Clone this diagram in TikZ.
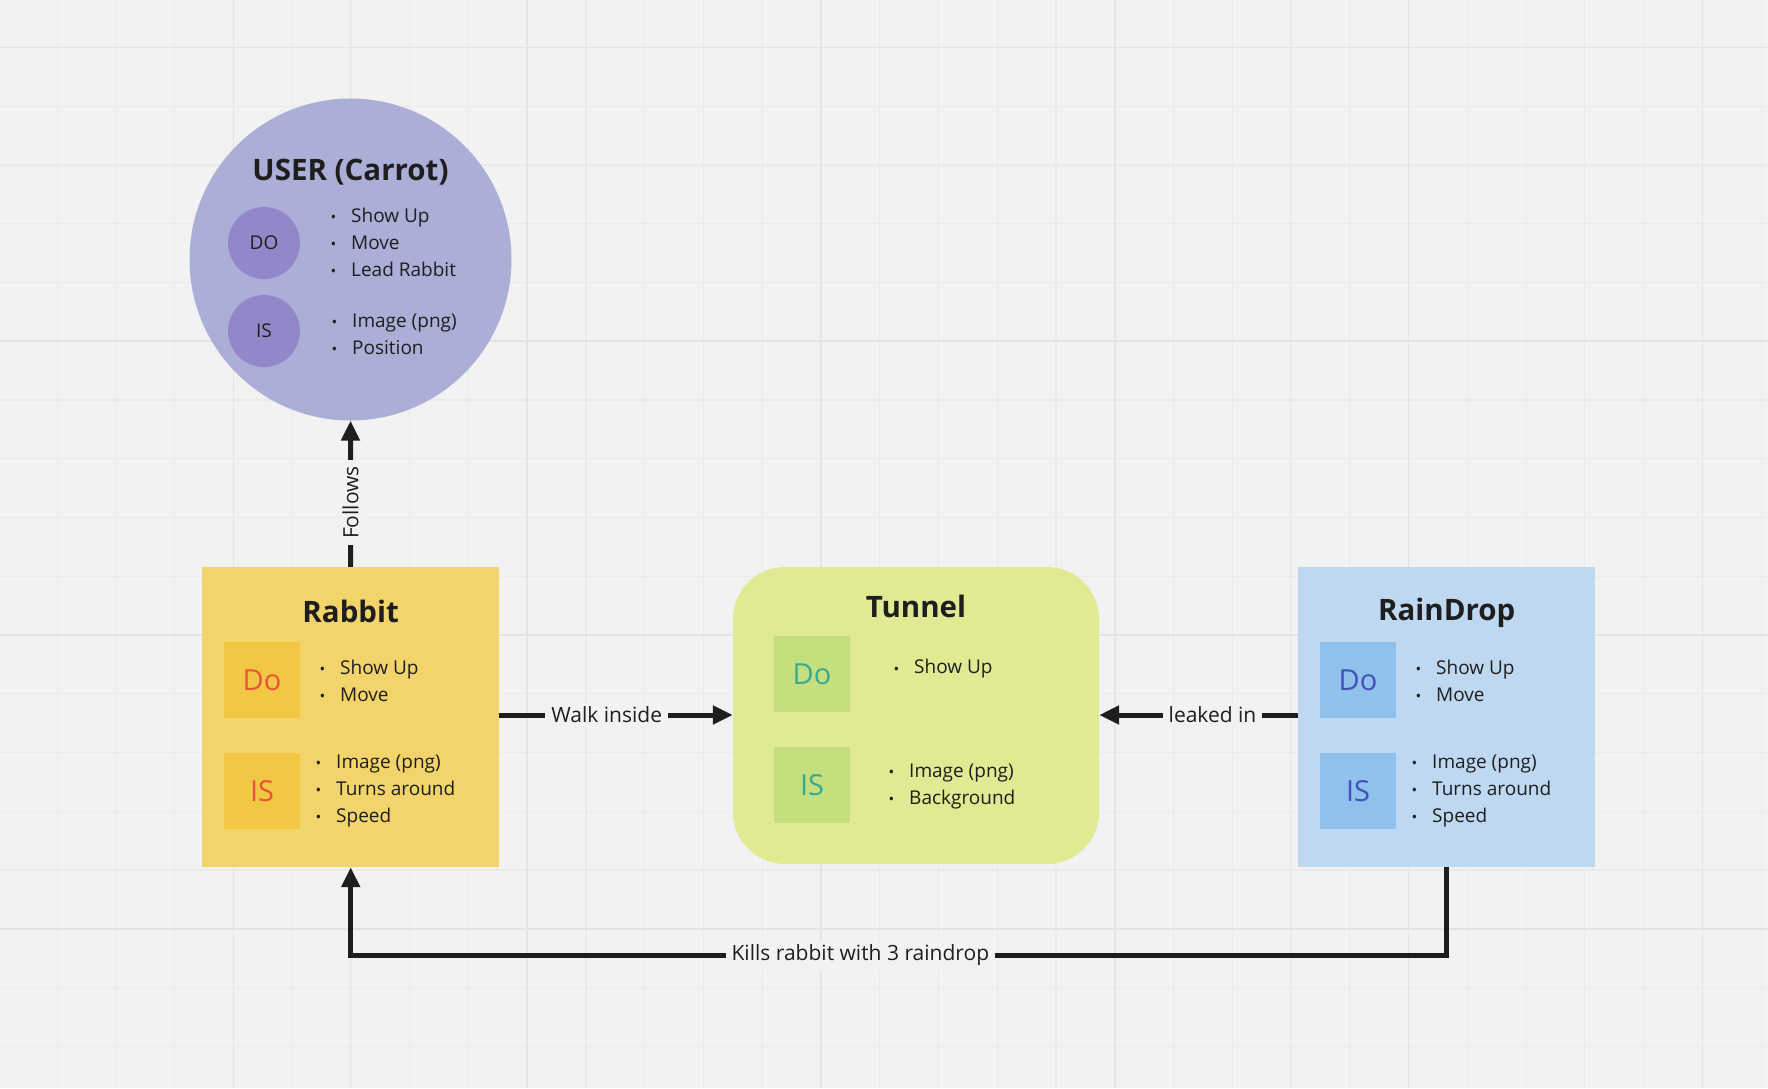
\documentclass[tikz,border=0pt]{standalone}
\usepackage{fontspec}
\setmainfont{Open Sans}
\usepackage{xcolor}
\usetikzlibrary{arrows.meta,positioning}

\definecolor{bgcol}{HTML}{F2F2F2}
\definecolor{gridminor}{HTML}{EAEAEA}
\definecolor{gridmajor}{HTML}{E4E4E4}
\definecolor{carrotfill}{HTML}{ABAED6}
\definecolor{carrotdot}{HTML}{9287C8}
\definecolor{rabbitfill}{HTML}{F2D46B}
\definecolor{rabbitsq}{HTML}{F2C744}
\definecolor{rabbittext}{HTML}{E8533A}
\definecolor{tunnelfill}{HTML}{DFEA93}
\definecolor{tunnelsq}{HTML}{C3DF7E}
\definecolor{tunneltext}{HTML}{3BA98F}
\definecolor{rainfill}{HTML}{BDD8F0}
\definecolor{rainsq}{HTML}{90C0EC}
\definecolor{raintext}{HTML}{4250B8}
\definecolor{ink}{HTML}{1E1E1E}

\newcommand{\bul}{\makebox[19pt][l]{\hspace*{-1.5pt}\fontsize{15}{15}\selectfont\raisebox{-0.3pt}{•}}}

\begin{document}
\begin{tikzpicture} %Carrot game
      [
      x=1pt, y=-1pt,
      carrot/.style={circle, fill=carrotfill, minimum size=322pt, inner sep=0pt},
      dot/.style={circle, fill=carrotdot, minimum size=72pt, inner sep=0pt, text=ink, font=\fontsize{19}{19}\selectfont},
      box/.style={minimum width=297pt, minimum height=300pt, inner sep=0pt},
      sq/.style={minimum size=76pt, inner sep=0pt, font=\fontsize{29}{29}\selectfont},
      title/.style={text=ink, font=\bfseries\fontsize{29.5}{29.5}\selectfont},
      list/.style={anchor=west, align=left, inner sep=0pt, text=ink, font=\fontsize{19}{27}\selectfont},
      lbl/.style={fill=bgcol, inner xsep=6pt, inner ysep=4pt, text=ink, font=\fontsize{21}{21}\selectfont},
      conn/.style={draw=ink, line width=5pt, -{Triangle[length=20pt,width=18pt]}}
      ]
      \useasboundingbox (0,0) rectangle (1768,1088);
      \fill[bgcol] (0,0) rectangle (1768,1088);
      \foreach \k in {0,...,29} \draw[gridminor, line width=1.2pt] ({57.1+\k*58.76},0) -- ++(0,1088);
      \foreach \k in {0,...,17} \draw[gridminor, line width=1.2pt] (0,{47.4+\k*58.76}) -- ++(1768,0);
      \foreach \k in {0,...,5} \draw[gridmajor, line width=1.5pt] ({233.4+\k*293.8},0) -- ++(0,1088);
      \foreach \k in {0,...,3} \draw[gridmajor, line width=1.5pt] (0,{47.4+\k*293.8}) -- ++(1768,0);

      % user
      \node[carrot] (carrot) at (350.5,259.5) {};
      \node[title] (carrottitle) at (350.5,172) {USER (Carrot)};
      \node[dot] (carrotdo) at (264,243) {DO};
      \node[dot] (carrotis) at (264,331) {IS};
      \node[list] (carrotdolist) at (332,242) {\bul Show Up\\ \bul Move\\ \bul Lead Rabbit};
      \node[list] (carrotislist) at (333,334) {\bul Image (png)\\ \bul Position};

      % rabbit
      \node[box, fill=rabbitfill] (rabbit) at (350.7,717) {};
      \node[title] (rabbittitle) at (350.7,611) {Rabbit};
      \node[sq, fill=rabbitsq, text=rabbittext] (rabbitdo) at (262,680) {Do};
      \node[sq, fill=rabbitsq, text=rabbittext] (rabbitis) at (262,791) {IS};
      \node[list] (rabbitdolist) at (321,681) {\bul Show Up\\ \bul Move};
      \node[list] (rabbitislist) at (317,791) {\bul Image (png)\\ \bul Turns around\\ \bul Speed};

      % tunnel
      \node[box, fill=tunnelfill, minimum width=366pt, minimum height=297pt, rounded corners=52pt] (tunnel) at (916,715.5) {};
      \node[title] (tunneltitle) at (916,606) {Tunnel};
      \node[sq, fill=tunnelsq, text=tunneltext] (tunneldo) at (812,674) {Do};
      \node[sq, fill=tunnelsq, text=tunneltext] (tunnelis) at (812,785) {IS};
      \node[list] (tunneldolist) at (895,669) {\bul Show Up};
      \node[list] (tunnelislist) at (890,786) {\bul Image (png)\\ \bul Background};

      % raindrop
      \node[box, fill=rainfill] (rain) at (1446.7,717) {};
      \node[title] (raintitle) at (1446.7,613) {RainDrop};
      \node[sq, fill=rainsq, text=raintext] (raindo) at (1358,680) {Do};
      \node[sq, fill=rainsq, text=raintext] (rainis) at (1358,791) {IS};
      \node[list] (raindolist) at (1417,681) {\bul Show Up\\ \bul Move};
      \node[list] (rainislist) at (1413,791) {\bul Image (png)\\ \bul Turns around\\ \bul Speed};

      \coordinate (killy) at (0,955);
      \coordinate (walky) at (0,715);

      \begin{scope}
        \draw[conn] (rabbit.north) -- node[lbl, pos=0.44, rotate=90]{Follows} (carrot.south);
        \draw[conn] (rabbit.east |- walky) -- node[lbl, pos=0.46]{Walk inside} (tunnel.west |- walky);
        \draw[conn] (rain.west |- walky) -- node[lbl, pos=0.43]{leaked in} (tunnel.east |- walky);
        \draw[conn] (rain.south) -- (rain.south |- killy) -- node[lbl, pos=0.535]{Kills rabbit with 3 raindrop} (rabbit.south |- killy) -- (rabbit.south);
      \end{scope}
\end{tikzpicture}
\end{document}
